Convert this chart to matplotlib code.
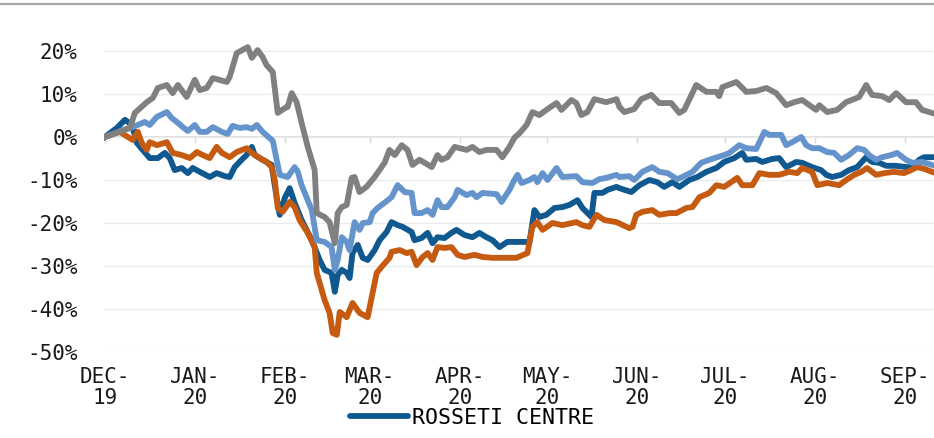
import datetime as dt
import matplotlib
matplotlib.use("Agg")
import matplotlib.pyplot as plt
import matplotlib.dates as mdates
from matplotlib.ticker import FuncFormatter, FixedLocator
from matplotlib.lines import Line2D

# days since 1 Dec 2019 and change in % for each series
rosseti_day = [0, 4.1, 6.9, 9.3, 11.0, 13.0, 15.4, 18.2, 20.6, 22.3, 24.0, 26.4, 28.5, 30.2, 32.6, 36.0,
               38.4, 41.2, 42.9, 44.6, 47.0, 48.7, 50.5, 51.5, 54.2, 57.3, 59.0, 60.1, 61.8, 63.5, 65.2,
               67.6, 71.1, 73.8, 75.5, 77.9, 79.0, 80.0, 81.4, 83.1, 84.1, 85.1, 86.9, 88.6, 90.3, 92.7,
               94.4, 96.8, 98.5, 100.6, 102.3, 105.4, 106.4, 108.8, 110.9, 112.6, 114.3, 116.7, 119.1,
               120.8, 123.6, 126.3, 128.7, 131.1, 133.2, 135.6, 138.3, 141.4, 145.9, 147.6, 149.3, 151.7,
               154.5, 157.2, 159.6, 162.4, 164.1, 167.2, 168.2, 171.0, 172.7, 175.8, 176.8, 180.9, 183.7,
               187.1, 189.8, 192.2, 195.0, 197.4, 200.8, 203.6, 206.7, 210.1, 212.8, 216.3, 219.0, 220.4,
               223.8, 225.9, 229.3, 231.7, 234.1, 237.6, 239.6, 243.0, 246.1, 247.9, 249.9, 253.0, 255.7,
               258.5, 261.6, 263.6, 266.0, 268.5, 271.9, 275.3, 277.4, 279.8, 281.5, 284.2]
rosseti_val = [0, 2.1, 4.0, 2.8, -1.4, -3.0, -4.9, -4.9, -3.7, -4.9, -7.7, -7.2, -8.4, -7.2, -8.1, -9.3,
               -8.4, -9.1, -9.3, -7.0, -5.3, -4.2, -2.3, -4.2, -5.3, -6.5, -14.0, -18.1, -14.2, -11.9, -15.3,
               -19.3, -24.0, -28.6, -30.9, -31.6, -36.0, -32.1, -30.9, -31.6, -32.8, -27.0, -25.1, -28.1,
               -28.6, -26.3, -24.0, -22.1, -19.8, -20.5, -20.9, -22.1, -24.0, -23.5, -22.3, -24.7, -23.3,
               -23.5, -22.3, -21.6, -22.8, -23.3, -22.3, -23.3, -24.0, -25.6, -24.4, -24.4, -24.4, -17.0,
               -18.6, -18.1, -16.5, -16.3, -15.8, -14.7, -16.5, -18.6, -13.0, -13.0, -12.3, -11.6, -11.9,
               -12.8, -11.2, -10.0, -10.5, -11.6, -10.5, -11.6, -10.0, -9.3, -8.1, -7.2, -5.8, -4.9, -3.7,
               -5.3, -5.1, -5.8, -5.1, -4.9, -7.0, -5.8, -6.0, -7.0, -7.7, -8.8, -9.3, -8.8, -7.7, -7.0,
               -4.7, -5.8, -6.0, -6.7, -6.7, -7.0, -7.0, -5.3, -4.7, -4.7]

orange_day = [0, 5.1, 7.9, 9.6, 11.3, 12.7, 14.4, 15.4, 17.9, 21.3, 23.3, 26.4, 29.2, 31.6, 33.6, 36.0,
              38.4, 40.2, 42.9, 45.3, 48.7, 50.5, 53.2, 55.6, 57.3, 58.4, 59.4, 61.1, 63.5, 65.2, 66.9,
              69.7, 72.1, 72.8, 75.5, 77.2, 78.3, 79.7, 80.7, 83.1, 85.1, 87.5, 90.3, 91.7, 93.4, 95.1,
              97.8, 98.5, 101.3, 103.7, 105.4, 107.1, 109.2, 110.9, 112.6, 114.3, 116.7, 119.1, 121.2,
              123.6, 127.0, 129.8, 133.2, 136.6, 141.4, 145.2, 146.9, 148.6, 150.4, 153.8, 157.2, 162.0,
              164.1, 166.5, 168.9, 171.6, 175.8, 180.2, 181.3, 182.6, 184.7, 188.1, 190.5, 194.0, 196.4,
              199.8, 201.9, 204.3, 207.7, 210.1, 212.8, 215.2, 217.3, 219.0, 222.5, 224.9, 228.3, 231.7,
              235.2, 237.9, 239.6, 243.0, 244.8, 248.2, 252.3, 254.7, 257.5, 259.9, 261.9, 265.0, 267.8,
              271.2, 274.6, 277.0, 279.1, 281.5, 284.2]
orange_val = [0, 1.2, 0, -0.7, 1.2, -1.4, -3.0, -1.2, -1.9, -1.2, -3.7, -4.2, -4.9, -3.5, -4.2, -4.9,
              -2.3, -3.7, -4.7, -3.5, -2.6, -3.7, -4.9, -5.8, -7.0, -10.0, -16.5, -17.4, -15.1, -16.3, -19.3,
              -22.3, -25.6, -31.6, -37.9, -40.9, -45.6, -46.0, -40.7, -41.9, -38.6, -40.9, -41.9, -37.2,
              -31.6, -30.2, -28.1, -26.7, -26.3, -27.0, -26.7, -29.8, -27.9, -27.0, -28.6, -25.6, -25.8,
              -25.6, -27.4, -27.9, -27.4, -27.9, -28.1, -28.1, -28.1, -27.0, -20.9, -19.8, -21.6, -20.0,
              -20.5, -19.8, -20.5, -20.9, -18.1, -19.3, -19.8, -21.2, -20.9, -18.1, -17.4, -17.0, -18.1,
              -17.7, -17.7, -16.5, -16.3, -14.0, -13.0, -11.2, -11.6, -10.5, -9.5, -11.2, -11.2, -8.4,
              -8.8, -8.8, -8.1, -8.4, -7.2, -8.1, -11.2, -10.7, -11.2, -10.0, -8.8, -8.1, -7.2, -8.8,
              -8.4, -8.1, -8.4, -7.7, -7.0, -7.4, -8.1]

light_day = [0, 6.2, 9.6, 13.7, 15.4, 17.9, 21.3, 23.0, 24.7, 26.8, 28.5, 30.9, 32.6, 35.0, 37.1, 40.2,
             42.2, 43.9, 46.3, 48.7, 50.5, 52.2, 54.2, 57.7, 60.1, 62.8, 65.2, 66.3, 67.6, 71.1, 72.8,
             75.5, 77.9, 79.0, 80.0, 81.4, 83.1, 84.1, 85.8, 87.5, 88.6, 91.0, 92.0, 93.7, 96.1, 98.5,
             100.6, 103.0, 105.4, 106.4, 108.8, 110.9, 112.6, 114.3, 115.7, 117.7, 120.2, 121.2, 124.3,
             126.3, 127.7, 129.8, 134.6, 136.3, 139.0, 140.7, 141.8, 143.2, 145.9, 147.6, 148.6, 150.4,
             152.1, 155.2, 157.2, 162.0, 164.1, 167.5, 169.9, 172.3, 175.8, 176.8, 180.2, 181.9, 184.7,
             188.1, 190.5, 193.3, 196.7, 198.4, 201.9, 204.9, 207.7, 210.4, 212.8, 214.6, 218.0, 220.4,
             223.8, 226.6, 228.3, 232.4, 234.1, 236.2, 239.3, 241.0, 243.0, 245.5, 248.2, 250.6, 253.0,
             255.7, 258.5, 260.9, 262.6, 265.0, 267.1, 270.2, 272.2, 275.3, 277.4, 280.8, 284.2]
light_val = [0, 1.6, 2.3, 3.5, 2.8, 4.7, 5.8, 4.4, 3.5, 2.3, 1.4, 2.8, 1.2, 1.2, 2.3, 1.2,
             0.7, 2.6, 2.1, 2.3, 1.9, 2.8, 1.2, -0.9, -8.8, -9.3, -7.0, -8.1, -11.2, -17.0, -24.0,
             -24.4, -25.6, -30.9, -28.6, -23.3, -24.4, -26.3, -19.8, -21.6, -20.0, -19.8, -17.7, -16.5,
             -15.3, -14.0, -11.2, -12.8, -13.0, -17.7, -17.7, -17.0, -18.1, -14.7, -16.3, -16.3, -14.0,
             -12.3, -13.5, -13.0, -14.0, -13.0, -13.3, -15.1, -12.3, -10.0, -8.8, -10.7, -10.0, -9.3,
             -10.5, -8.4, -10.0, -7.2, -9.3, -9.1, -10.5, -10.7, -9.8, -9.5, -8.8, -9.3, -9.1, -10.0,
             -8.1, -7.0, -8.1, -8.4, -9.8, -9.3, -8.1, -6.0, -5.3, -4.7, -4.2, -3.7, -1.9, -2.6, -2.8,
             1.2, 0.5, 0.5, -1.9, -1.2, 0, -1.9, -2.6, -2.6, -3.5, -3.7, -5.3, -4.2, -2.6, -3.0, -4.2,
             -5.3, -4.7, -4.2, -3.7, -5.3, -6.0, -5.8, -6.5]

gray_day = [0, 8.6, 10.3, 14.4, 16.5, 18.2, 21.3, 23.3, 25.1, 28.1, 30.9, 32.6, 35.0, 37.1, 41.9, 42.9,
            45.3, 49.1, 50.5, 52.5, 54.2, 55.6, 57.7, 59.4, 61.8, 62.8, 64.2, 65.9, 67.6, 69.7, 72.1,
            72.8, 75.5, 77.2, 79.0, 80.0, 81.4, 83.1, 84.8, 85.8, 87.5, 89.9, 92.7, 96.1, 97.8, 99.6,
            102.0, 104.0, 105.7, 108.1, 109.9, 112.3, 114.3, 115.7, 117.7, 120.2, 121.9, 124.3, 126.3,
            128.7, 131.1, 134.6, 136.6, 139.0, 140.7, 142.5, 144.9, 146.9, 149.3, 151.7, 155.2, 156.9,
            160.3, 162.0, 163.7, 165.8, 168.2, 172.3, 175.8, 176.8, 178.5, 181.9, 184.3, 187.8, 190.5,
            194.6, 197.4, 199.1, 203.2, 206.7, 210.1, 211.1, 212.2, 217.0, 220.4, 223.8, 227.3, 230.7,
            234.1, 236.9, 239.6, 244.4, 245.5, 248.2, 251.6, 254.7, 259.2, 261.6, 263.6, 267.1, 269.5,
            271.9, 275.3, 278.7, 280.8, 284.2]
gray_val = [0, 2.1, 5.6, 8.1, 9.1, 11.4, 12.1, 10.2, 12.1, 9.3, 13.3, 10.9, 11.4, 13.7, 12.8, 14.0,
            19.5, 20.9, 18.4, 20.2, 18.6, 16.7, 15.1, 5.6, 6.7, 7.0, 10.2, 8.1, 3.3, -2.3, -7.7,
            -17.7, -18.6, -19.8, -24.7, -17.7, -16.3, -15.8, -9.5, -9.3, -12.8, -11.6, -9.3, -6.0, -3.0,
            -4.2, -1.9, -3.0, -6.5, -5.3, -6.0, -7.0, -4.2, -5.3, -4.7, -2.3, -2.6, -3.0, -2.3, -3.5,
            -3.0, -3.0, -4.7, -2.3, -0.2, 0.9, 2.8, 5.8, 5.1, 6.3, 7.9, 6.3, 8.6, 7.9, 5.1, 5.8, 8.8,
            8.1, 8.8, 7.0, 5.8, 6.5, 8.8, 9.8, 7.9, 7.9, 5.6, 6.3, 12.1, 10.5, 10.5, 9.5, 11.6, 12.8,
            10.5, 10.7, 11.4, 10.2, 7.4, 8.1, 8.6, 6.3, 7.4, 5.8, 6.3, 8.1, 9.3, 12.1, 9.8, 9.5, 8.6,
            10.2, 8.1, 8.1, 6.3, 5.6]

month_labels = ["DEC-\n19", "JAN-\n20", "FEB-\n20", "MAR-\n20", "APR-\n20",
                "MAY-\n20", "JUN-\n20", "JUL-\n20", "AUG-\n20", "SEP-\n20"]
y_ticks = [-50, -40, -30, -20, -10, 0, 10, 20]

start = mdates.date2num(dt.datetime(2019, 12, 1))


def to_dates(days):
    return [start + d for d in days]


plt.rcParams["font.family"] = ["DejaVu Sans Mono"]
fig = plt.figure(figsize=(9.34, 4.38), dpi=100)
ax = fig.add_axes([104 / 934, 86 / 438, 830 / 934, 322.5 / 438])

colors = {"rosseti": "#0F5890", "orange": "#C55A11", "light": "#6494CB", "gray": "#808080"}
lw = 4.2
ax.plot(to_dates(rosseti_day), rosseti_val, color=colors["rosseti"], lw=lw, solid_joinstyle="round")
ax.plot(to_dates(orange_day), orange_val, color=colors["orange"], lw=lw, solid_joinstyle="round")
ax.plot(to_dates(light_day), light_val, color=colors["light"], lw=lw, solid_joinstyle="round")
ax.plot(to_dates(gray_day), gray_val, color=colors["gray"], lw=lw, solid_joinstyle="round")

ax.set_xlim(start - 0.3, start + 284.9)
ax.set_ylim(-50, 25)

# first day of each month on the x axis
month_starts = [mdates.date2num(dt.datetime(2019, 12, 1))] + \
               [mdates.date2num(dt.datetime(2020, m, 1)) for m in range(1, len(month_labels))]
ax.xaxis.set_major_locator(FixedLocator(month_starts))
ax.set_xticklabels(month_labels)
ax.set_yticks(y_ticks)
ax.yaxis.set_major_formatter(FuncFormatter(lambda v, p: f"{v:.0f}%"))

ax.grid(axis="y", color="#EBEBEB", lw=0.9)
ax.set_axisbelow(True)
ax.axhline(0, color="#D9D9D9", lw=1.2, zorder=0.5)
ax.vlines(month_starts, -1.3, 0, color="#D9D9D9", lw=1.0, zorder=0.5)

for s in ax.spines.values():
    s.set_visible(False)
ax.tick_params(axis="both", length=0, labelsize=15, colors="#1a1a1a")
ax.tick_params(axis="x", pad=11)
ax.tick_params(axis="y", pad=19)
for t in ax.get_xticklabels():
    t.set_multialignment("center")
    t.set_linespacing(1.05)

# thin rule across the top of the figure
fig.add_artist(Line2D([0, 1], [0.9898, 0.9898], transform=fig.transFigure, color="#A6A9AC", lw=1.6))

handle = Line2D([], [], color=colors["rosseti"], lw=4.2, solid_capstyle="round")
fig.legend([handle], ["ROSSETI CENTRE"], loc="center left", bbox_to_anchor=(350 / 934, 20 / 438),
           frameon=False, fontsize=15.5, handlelength=2.7, handletextpad=0.2, borderpad=0, borderaxespad=0)

fig.savefig("out.png", dpi=100)
